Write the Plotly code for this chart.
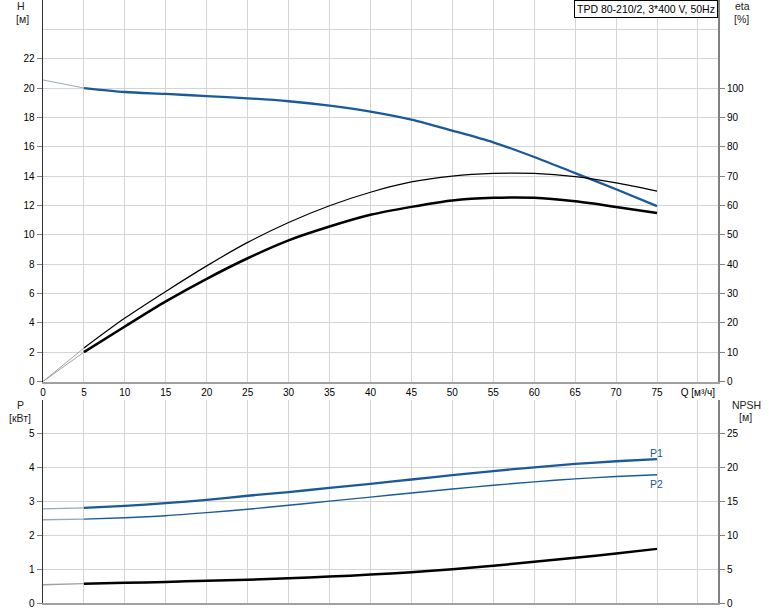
import plotly.graph_objects as go

# ---- data ----
Q = [0, 5, 10, 15, 20, 25, 30, 35, 40, 45, 50, 55, 60, 65, 70, 75]
H = [20.55, 20.0, 19.73, 19.6, 19.45, 19.3, 19.1, 18.8, 18.4, 17.85, 17.1, 16.3, 15.3, 14.2, 13.1, 11.95]
eta_pump = [0, 11.4, 21.6, 30.7, 39.4, 47.4, 54.2, 59.9, 64.5, 68.0, 70.0, 70.9, 70.9, 69.8, 67.7, 64.9]
eta_total = [0, 10.0, 18.75, 27.3, 35.0, 42.0, 48.1, 52.8, 56.8, 59.5, 61.7, 62.6, 62.6, 61.4, 59.5, 57.4]
P1 = [2.78, 2.81, 2.87, 2.95, 3.05, 3.17, 3.28, 3.40, 3.52, 3.65, 3.78, 3.90, 4.01, 4.11, 4.19, 4.25]
P2 = [2.46, 2.48, 2.52, 2.58, 2.67, 2.77, 2.89, 3.01, 3.13, 3.25, 3.37, 3.48, 3.58, 3.67, 3.74, 3.79]
NPSH = [2.7, 2.85, 2.98, 3.12, 3.28, 3.45, 3.65, 3.9, 4.2, 4.55, 5.0, 5.5, 6.1, 6.7, 7.3, 8.0]

x_ticks = [0, 5, 10, 15, 20, 25, 30, 35, 40, 45, 50, 55, 60, 65, 70, 75, 80]
x_labels = ["0", "5", "10", "15", "20", "25", "30", "35", "40", "45", "50", "55",
            "60", "65", "70", "75", "Q [м³/ч]"]
H_ticks = [0, 2, 4, 6, 8, 10, 12, 14, 16, 18, 20, 22]
eta_ticks = [0, 10, 20, 30, 40, 50, 60, 70, 80, 90, 100]
P_ticks = [0, 1, 2, 3, 4, 5]
NPSH_ticks = [0, 5, 10, 15, 20, 25]
title_text = "TPD 80-210/2, 3*400 V, 50Hz"

BLUE = "#1a5a9a"
BLUE_EXT = "#9aa8bc"
BLACK = "#000000"
GREY_EXT = "#a0a0a0"
GRID = "#d4d4d4"
FONT = "Liberation Sans, Arial, sans-serif"

fig = go.Figure()


def curve(y, xa, ya, color, ext_color, width, ext_width=1.0):
    # thin light extension from Q=0 to Q=5, then main curve
    fig.add_trace(go.Scatter(x=Q[:2], y=y[:2], xaxis=xa, yaxis=ya, mode="lines",
                             line=dict(color=ext_color, width=ext_width),
                             hoverinfo="skip", showlegend=False))
    fig.add_trace(go.Scatter(x=Q[1:], y=y[1:], xaxis=xa, yaxis=ya, mode="lines",
                             line=dict(color=color, width=width, shape="spline",
                                       smoothing=0.8),
                             showlegend=False))


curve(H, "x", "y", BLUE, BLUE_EXT, 2.3)
curve(eta_pump, "x", "y2", BLACK, GREY_EXT, 1.2)
curve(eta_total, "x", "y2", BLACK, GREY_EXT, 2.5)
curve(P1, "x2", "y3", BLUE, BLUE_EXT, 2.3, 1.3)
curve(P2, "x2", "y3", BLUE, BLUE_EXT, 1.4, 1.3)
curve(NPSH, "x2", "y4", BLACK, GREY_EXT, 2.5, 1.3)

W, Hh = 774, 611
ml, mr, mt, mb = 43, 56, 0, 8
ph = Hh - mt - mb
top_dom = [(ph - 381.5) / ph, 1.0]
bot_dom = [0.0, (ph - 400) / ph]

tickfont = dict(family=FONT, size=10, color="#000")

xcommon = dict(range=[0, 82.45], tickvals=x_ticks, showgrid=True, gridcolor=GRID,
               gridwidth=1, zeroline=False, showline=True, linecolor="#a0a0a0",
               linewidth=2, ticks="", tickfont=tickfont, fixedrange=True,
               automargin=False)

fig.update_layout(
    width=W, height=Hh,
    margin=dict(l=ml, r=mr, t=mt, b=mb, autoexpand=False),
    paper_bgcolor="white", plot_bgcolor="white",
    font=dict(family=FONT, size=10, color="#000"),
    xaxis=dict(xcommon, domain=[0, 1], anchor="y", ticktext=x_labels),
    xaxis2=dict(xcommon, domain=[0, 1], anchor="y3", showticklabels=False),
    yaxis=dict(domain=top_dom, range=[0, 26], tickvals=H_ticks, anchor="x",
               showgrid=False, zeroline=False, showline=True, linecolor="#303030",
               linewidth=1.5, ticks="outside", ticklen=5, tickcolor="#808080",
               tickfont=tickfont, automargin=False, fixedrange=True,
               minor=dict(tickvals=list(range(0, 27, 2)), showgrid=True,
                          gridcolor=GRID, gridwidth=1, ticks="")),
    yaxis2=dict(range=[0, 130], tickvals=eta_ticks, overlaying="y", side="right",
                anchor="x", showgrid=False, zeroline=False, showline=True,
                linecolor="#808080", linewidth=2, ticks="outside", ticklen=5,
                tickcolor="#808080", tickfont=tickfont, automargin=False,
                fixedrange=True),
    yaxis3=dict(domain=bot_dom, range=[0, 6], tickvals=P_ticks, anchor="x2",
                showgrid=False, zeroline=False, showline=True, linecolor="#303030",
                linewidth=1.5, ticks="outside", ticklen=5, tickcolor="#808080",
                tickfont=tickfont, automargin=False, fixedrange=True,
                minor=dict(tickvals=[0, 1, 2, 3, 4, 5, 6], showgrid=True,
                           gridcolor=GRID, gridwidth=1, ticks="")),
    yaxis4=dict(range=[0, 30], tickvals=NPSH_ticks, overlaying="y3", side="right",
                anchor="x2", showgrid=False, zeroline=False, showline=True,
                linecolor="#808080", linewidth=2, ticks="outside", ticklen=5,
                tickcolor="#808080", tickfont=tickfont, automargin=False,
                fixedrange=True),
)


def px_x(px):
    return (px - ml) / (W - ml - mr)


def px_y(py):
    return (ph - (py - mt)) / ph


def label(text, x, y, color="#222", size=10.5):
    fig.add_annotation(text=text, x=px_x(x), y=px_y(y), xref="paper", yref="paper",
                       showarrow=False, xanchor="center", yanchor="middle",
                       font=dict(family=FONT, size=size, color=color))


label("H", 21, 6)
label("[м]", 22, 19)
label("eta", 742, 6)
label("[%]", 741, 19)
label("P", 20, 405)
label("[кВт]", 20, 418)
label("NPSH", 746, 405)
label("[м]", 745, 417)
label("P1", 656, 453, color=BLUE)
label("P2", 656, 484, color=BLUE)

fig.add_annotation(text=title_text, x=1, y=1, xref="paper", yref="paper",
                   xanchor="right", yanchor="top", showarrow=False,
                   bgcolor="white", bordercolor="#000", borderwidth=1, borderpad=2,
                   font=dict(family=FONT, size=10.5, color="#000"))

fig.write_html("out.html",
               config={"displayModeBar": False, "staticPlot": True},
               post_script="document.body.style.margin='0px';"
                           "document.body.style.overflow='hidden';")
